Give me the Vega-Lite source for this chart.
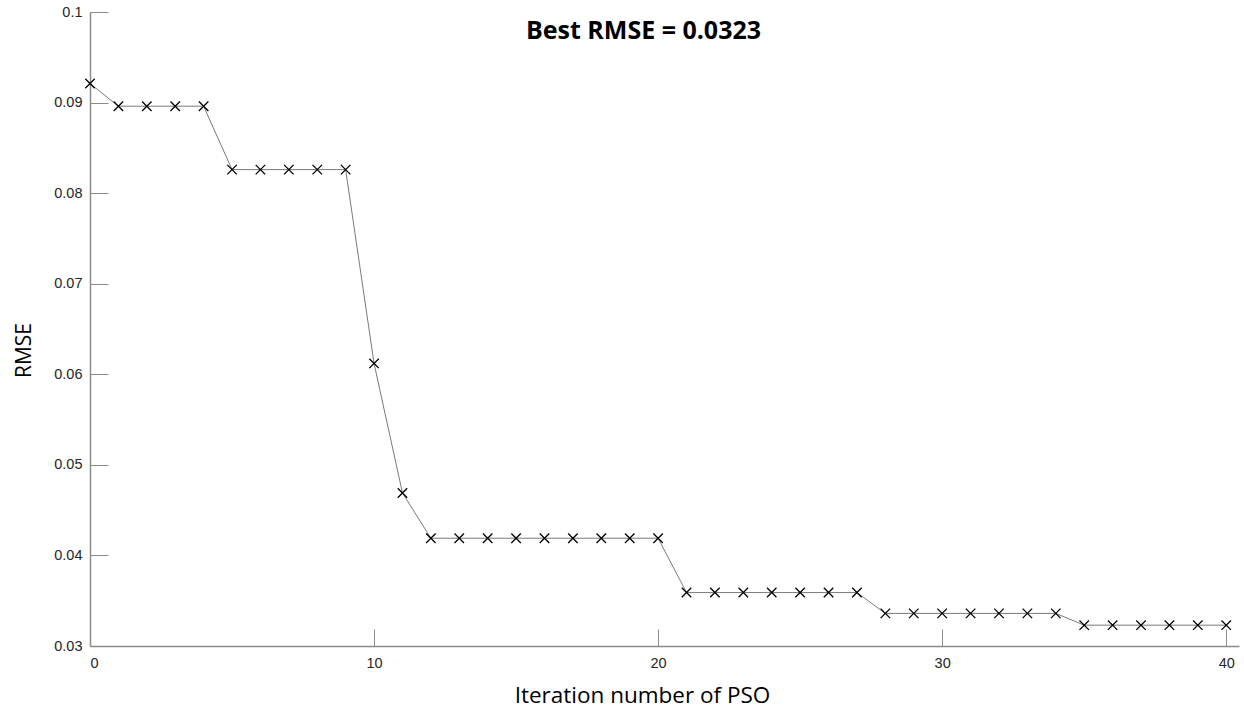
{
  "$schema": "https://vega.github.io/schema/vega-lite/v6.json",
  "autosize": "none",
  "width": 1149,
  "height": 634,
  "padding": {"left": 90, "top": 12, "right": 5, "bottom": 65},
  "background": "white",
  "title": {
    "text": "Best RMSE = 0.0323",
    "font": "Open Sans",
    "fontWeight": "bold",
    "fontSize": 25,
    "color": "#000000",
    "anchor": "middle",
    "dx": -21,
    "offset": -40
  },
  "data": {
    "values": [
      {"iter": 0, "rmse": 0.0921},
      {"iter": 1, "rmse": 0.0896},
      {"iter": 2, "rmse": 0.0896},
      {"iter": 3, "rmse": 0.0896},
      {"iter": 4, "rmse": 0.0896},
      {"iter": 5, "rmse": 0.0826},
      {"iter": 6, "rmse": 0.0826},
      {"iter": 7, "rmse": 0.0826},
      {"iter": 8, "rmse": 0.0826},
      {"iter": 9, "rmse": 0.0826},
      {"iter": 10, "rmse": 0.0612},
      {"iter": 11, "rmse": 0.0469},
      {"iter": 12, "rmse": 0.0419},
      {"iter": 13, "rmse": 0.0419},
      {"iter": 14, "rmse": 0.0419},
      {"iter": 15, "rmse": 0.0419},
      {"iter": 16, "rmse": 0.0419},
      {"iter": 17, "rmse": 0.0419},
      {"iter": 18, "rmse": 0.0419},
      {"iter": 19, "rmse": 0.0419},
      {"iter": 20, "rmse": 0.0419},
      {"iter": 21, "rmse": 0.0359},
      {"iter": 22, "rmse": 0.0359},
      {"iter": 23, "rmse": 0.0359},
      {"iter": 24, "rmse": 0.0359},
      {"iter": 25, "rmse": 0.0359},
      {"iter": 26, "rmse": 0.0359},
      {"iter": 27, "rmse": 0.0359},
      {"iter": 28, "rmse": 0.0336},
      {"iter": 29, "rmse": 0.0336},
      {"iter": 30, "rmse": 0.0336},
      {"iter": 31, "rmse": 0.0336},
      {"iter": 32, "rmse": 0.0336},
      {"iter": 33, "rmse": 0.0336},
      {"iter": 34, "rmse": 0.0336},
      {"iter": 35, "rmse": 0.0323},
      {"iter": 36, "rmse": 0.0323},
      {"iter": 37, "rmse": 0.0323},
      {"iter": 38, "rmse": 0.0323},
      {"iter": 39, "rmse": 0.0323},
      {"iter": 40, "rmse": 0.0323}
    ]
  },
  "encoding": {
    "x": {
      "field": "iter",
      "type": "quantitative",
      "scale": {"domain": [0, 40.45], "nice": false, "zero": false},
      "axis": {
        "title": "Iteration number of PSO",
        "values": [0, 10, 20, 30, 40],
        "format": "d",
        "grid": false,
        "domainColor": "#8c8c8c",
        "domainWidth": 1.5,
        "tickColor": "#8c8c8c",
        "tickWidth": 1,
        "tickSize": -17,
        "labelPadding": 27,
        "labelFont": "Liberation Sans",
        "labelFontSize": 14.5,
        "labelColor": "#262626",
        "titleFont": "Open Sans",
        "titleFontSize": 22.5,
        "titleFontWeight": "normal",
        "titleColor": "#000000",
        "titlePadding": 15,
        "titleX": 552
      }
    },
    "y": {
      "field": "rmse",
      "type": "quantitative",
      "scale": {"domain": [0.03, 0.1], "nice": false, "zero": false},
      "axis": {
        "title": "RMSE",
        "values": [0.03, 0.04, 0.05, 0.06, 0.07, 0.08, 0.09, 0.1],
        "format": ".2~f",
        "grid": false,
        "domainColor": "#8c8c8c",
        "domainWidth": 1.5,
        "tickColor": "#8c8c8c",
        "tickWidth": 1,
        "tickSize": -18,
        "labelPadding": 26,
        "labelFont": "Liberation Sans",
        "labelFontSize": 14.5,
        "labelColor": "#262626",
        "titleFont": "Open Sans",
        "titleFontSize": 21,
        "titleFontWeight": "normal",
        "titleColor": "#000000",
        "titlePadding": 19,
        "titleY": 338
      }
    }
  },
  "layer": [
    {
      "mark": {"type": "line", "color": "#7a7a7a", "strokeWidth": 1}
    },
    {
      "mark": {
        "type": "point",
        "shape": "M-1,-1L1,1M-1,1L1,-1",
        "size": 90,
        "stroke": "#000000",
        "strokeWidth": 1.3,
        "filled": false,
        "opacity": 1
      }
    }
  ],
  "config": {"view": {"stroke": null}}
}
